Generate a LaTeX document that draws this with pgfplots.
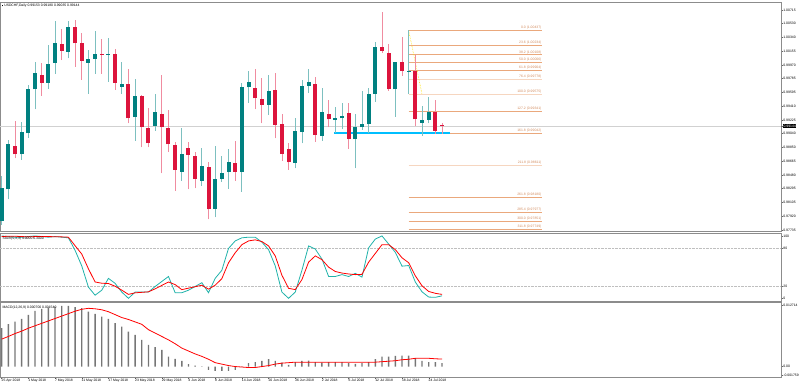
\documentclass[border=0pt]{standalone}
\usepackage{pgfplots}
\pgfplotsset{compat=1.18}
\usepackage{pgfplotstable}
\usepackage{fontspec}
\setmainfont{Liberation Sans}
\definecolor{upc}{RGB}{0,128,128}
\definecolor{dnc}{RGB}{220,20,60}
\definecolor{upw}{RGB}{125,192,192}
\definecolor{dnw}{RGB}{240,140,160}
\definecolor{fibc}{RGB}{234,168,124}
\definecolor{fibl}{RGB}{246,214,192}
\definecolor{fibt}{RGB}{210,140,95}
\definecolor{stk}{RGB}{32,178,170}
\definecolor{macdbar}{RGB}{118,118,118}
\definecolor{supp}{RGB}{0,191,255}
\newcommand\sm{\fontsize{3.4}{4}\selectfont}

\pgfplotstableread{
i O H L C
0 0.97861 0.98467 0.97803 0.98300
1 0.98286 0.98954 0.98151 0.98896
2 0.98877 0.99212 0.98706 0.98760
3 0.98760 0.99202 0.98683 0.99067
4 0.99045 0.99699 0.98985 0.99641
5 0.99641 1.00015 0.99370 0.99858
6 0.99830 1.00001 0.99554 0.99730
7 0.99730 1.00237 0.99649 0.99984
8 1.00001 1.00570 0.99848 1.00272
9 1.00254 1.00458 1.00034 1.00160
10 1.00150 1.00566 1.00061 1.00489
11 1.00489 1.00580 0.99947 1.00264
12 1.00272 1.00408 0.99767 1.00024
13 1.00001 1.00173 0.99577 1.00047
14 1.00051 1.00431 0.99848 1.00119
15 1.00119 1.00318 0.99848 1.00110
16 1.00112 1.00340 0.99744 1.00119
17 1.00119 1.00187 0.99631 0.99730
18 0.99676 1.00015 0.99577 0.99709
19 0.99709 0.99912 0.99180 0.99248
20 0.99262 0.99784 0.98945 0.99550
21 0.99550 0.99564 0.98855 0.99126
22 0.99121 0.99388 0.98855 0.98909
23 0.99144 0.99577 0.99080 0.99329
24 0.99306 0.99835 0.98503 0.99126
25 0.99113 0.99360 0.98788 0.98896
26 0.98886 0.98931 0.98263 0.98548
27 0.98525 0.99113 0.98403 0.98765
28 0.98842 0.98931 0.98286 0.98751
29 0.98741 0.98796 0.98300 0.98426
30 0.98403 0.98850 0.98331 0.98602
31 0.98592 0.98660 0.97880 0.98015
32 0.98020 0.98873 0.97907 0.98426
33 0.98426 0.98737 0.98389 0.98511
34 0.98517 0.98828 0.98290 0.98652
35 0.98647 0.98945 0.98399 0.98525
36 0.98517 0.99722 0.98254 0.99676
37 0.99668 0.99889 0.99459 0.99736
38 0.99663 0.99912 0.99370 0.99519
39 0.99509 0.99790 0.99180 0.99428
40 0.99428 0.99835 0.99293 0.99622
41 0.99631 0.99866 0.98977 0.99157
42 0.99167 0.99306 0.98674 0.98765
43 0.98828 0.98909 0.98548 0.98652
44 0.98647 0.99252 0.98571 0.99076
45 0.99067 0.99767 0.98909 0.99686
46 0.99686 0.99916 0.99587 0.99736
47 0.99713 0.99812 0.98931 0.99022
48 0.99008 0.99654 0.98945 0.99337
49 0.99302 0.99496 0.99126 0.99234
50 0.99229 0.99397 0.99053 0.99256
51 0.99248 0.99451 0.99099 0.99279
52 0.99324 0.99451 0.98832 0.98968
53 0.98964 0.99306 0.98571 0.99126
54 0.99126 0.99622 0.99090 0.99171
55 0.99167 0.99654 0.99045 0.99577
56 0.99577 1.00277 0.99473 1.00218
57 1.00210 1.00684 1.00137 1.00160
58 1.00137 1.00250 0.99622 0.99641
59 0.99641 1.00015 0.99270 1.00007
60 1.00007 1.00353 0.99821 0.99893
61 0.99885 1.00437 0.99575 0.99893
62 0.99889 1.00105 0.99148 0.99234
63 0.99188 0.99415 0.99008 0.99225
64 0.99225 0.99541 0.99180 0.99329
65 0.99329 0.99496 0.99035 0.99080
66 0.99153 0.99180 0.99035 0.99144
}\candles

\pgfplotstableread{
i K D
0 100 99
1 99 99.5
2 98 99.5
3 98 99
4 99 98.5
5 100 99
6 99 99
7 98 99
8 99 98.7
9 98 98.5
10 97 98
11 77 84.4
12 52 71
13 18 47.4
14 5 26.2
15 13 24.2
16 32 23.7
17 24 19.4
18 10 13.1
19 0 6.3
20 10 8.8
21 10 9.6
22 10 10.4
23 19 15.2
24 27 20.7
25 35 26.2
26 9 22
27 9 13.9
28 13 16.3
29 19 18.6
30 25 21
31 9 14.7
32 32 21
33 45 31.6
34 80 57
35 92 73
36 97 86
37 98 92
38 98 93.7
39 90 91
40 78 84
41 52 68
42 10 37
43 0 16
44 10 14
45 45 30
46 84 58
47 79 68
48 63 62
49 35 50
50 35 43
51 38 40.5
52 35 39
53 40 38
54 34 38.4
55 81 58
56 95 72
57 100 86
58 87 86
59 73.6 78
60 51.5 65
61 52.6 57
62 26 36
63 10.4 20
64 2 11
65 1.6 8
66 4 6.3
}\stoch

\pgfplotstableread{
i m s
0 0.00791 0.00565
1 0.00874 0.0062
2 0.00927 0.0068
3 0.00983 0.0073
4 0.01065 0.0079
5 0.01148 0.0084
6 0.01189 0.0089
7 0.01216 0.0094
8 0.01236 0.0099
9 0.01251 0.0104
10 0.01251 0.0109
11 0.01224 0.0114
12 0.01203 0.0118
13 0.01133 0.0120
14 0.01086 0.0119
15 0.01030 0.0117
16 0.00983 0.0113
17 0.00894 0.0107
18 0.00824 0.0101
19 0.00721 0.0097
20 0.00653 0.0092
21 0.00550 0.0087
22 0.00447 0.0076
23 0.00400 0.0069
24 0.00344 0.0062
25 0.00206 0.0055
26 0.00159 0.0047
27 0.00117 0.0038
28 0.00049 0.0032
29 0.00021 0.0026
30 -0.00005 0.0021
31 -0.00068 0.0015
32 -0.00089 0.0008
33 -0.00089 0.0005
34 -0.00089 0.0002
35 -0.00068 0.0000
36 0.00005 -0.0001
37 0.00070 -0.0002
38 0.00090 -0.0002
39 0.00117 0.0000
40 0.00152 0.0002
41 0.00117 0.0005
42 0.00082 0.0007
43 0.00035 0.0008
44 0.00090 0.0009
45 0.00117 0.0009
46 0.00124 0.0009
47 0.00090 0.0009
48 0.00082 0.0009
49 0.00090 0.0009
50 0.00090 0.0009
51 0.00090 0.0009
52 0.00070 0.0009
53 0.00056 0.0009
54 0.00070 0.0009
55 0.00090 0.0009
56 0.00152 0.0009
57 0.00206 0.0010
58 0.00206 0.0011
59 0.00220 0.0012
60 0.00227 0.0014
61 0.00227 0.0015
62 0.00173 0.0017
63 0.00117 0.0017
64 0.00090 0.0017
65 0.00090 0.0016
66 0.00070 0.00154
}\macd

\newcommand\fib[3]{\addplot[#3, line width=0.6pt] coordinates {(61,#2) (81,#2)} node[pos=1, anchor=south east, font=\sm, text=fibt, inner sep=0.5pt] {#1 (#2)};}

\begin{document}
\begin{tikzpicture}
\useasboundingbox (0,0) rectangle (800pt,-385pt);
\pgfplotsset{
 panel/.style={scale only axis, width=781pt, xmin=-0.25, xmax=116.8,
   axis line style={draw=black!45, line width=0.9pt},
   ytick pos=right, yticklabel pos=right, tick align=outside,
   major tick length=1.8pt, tick style={black!60, line width=0.4pt},
   yticklabel style={font=\sm, inner sep=0.4pt}, xtick=\empty,
   scaled y ticks=false, scaled x ticks=false},
 up/.style={restrict expr to domain={\thisrow{C}-\thisrow{O}}{0:1}},
 dn/.style={restrict expr to domain={\thisrow{O}-\thisrow{C}}{0:1}},
}
% ---------------- price panel ----------------
\begin{axis}[panel, at={(0pt,-2pt)}, anchor=north west, height=229pt,
  ymin=0.97721, ymax=1.00823,
  ytick={1.00715,1.00530,1.00340,1.00155,0.99970,0.99785,0.99595,0.99410,0.99225,0.99040,0.98850,0.98665,0.98480,0.98295,0.98105,0.97920,0.97735},
  yticklabels={1.00715,1.00530,1.00340,1.00155,0.99970,0.99785,0.99595,0.99410,0.99225,0.99040,0.98850,0.98665,0.98480,0.98295,0.98105,0.97920,0.97735},
  extra y ticks={0.99144}, extra y tick labels={0.99144},
  extra y tick style={yticklabel style={fill=black, text=white, inner sep=0.6pt}}]
\addplot[black!18, line width=0.5pt] coordinates {(-0.25,0.99144) (116.8,0.99144)};
\fib{0.0}{1.00437}{fibc}
\fib{23.6}{1.00234}{fibc}
\fib{38.2}{1.00108}{fibc}
\fib{50.0}{1.00006}{fibc}
\fib{61.8}{0.99904}{fibc}
\fib{76.4}{0.99778}{fibl}
\fib{100.0}{0.99575}{fibl}
\fib{127.2}{0.99341}{fibc}
\fib{161.8}{0.99042}{fibc}
\fib{211.8}{0.98611}{fibl}
\fib{261.8}{0.98180}{fibc}
\fib{285.4}{0.97977}{fibc}
\fib{300.0}{0.97851}{fibc}
\fib{311.8}{0.97749}{fibc}
\addplot[supp, line width=1.8pt] coordinates {(49.8,0.99049) (67.2,0.99049)};
\addplot[yellow!85!orange, densely dotted, line width=0.6pt] coordinates {(61,1.00437) (63,0.99575)};
% wicks
\addplot[draw=none, up, error bars/.cd, y dir=plus, y explicit, error mark=none,
  error bar style={draw=upw, line width=0.8pt}]
  table[x=i, y=L, y error expr=\thisrow{H}-\thisrow{L}] {\candles};
\addplot[draw=none, dn, error bars/.cd, y dir=plus, y explicit, error mark=none,
  error bar style={draw=dnw, line width=0.8pt}]
  table[x=i, y=L, y error expr=\thisrow{H}-\thisrow{L}] {\candles};
% bodies
\addplot[draw=none, up, error bars/.cd, y dir=plus, y explicit, error mark=none,
  error bar style={draw=upc, line width=4pt}]
  table[x=i, y=O, y error expr=\thisrow{C}-\thisrow{O}] {\candles};
\addplot[draw=none, dn, error bars/.cd, y dir=plus, y explicit, error mark=none,
  error bar style={draw=dnc, line width=4pt}]
  table[x=i, y=C, y error expr=\thisrow{O}-\thisrow{C}] {\candles};
\node[anchor=north west, font=\sm, inner sep=0pt] at (rel axis cs:0.002,0.992)
  {\rule{1.6pt}{1.6pt}\ USDCHF,Daily\ 0.99153\ 0.99180\ 0.99035\ 0.99144};
\end{axis}
% ---------------- stochastic panel ----------------
\begin{axis}[panel, at={(0pt,-233pt)}, anchor=north west, height=68pt,
  ymin=-4.3, ymax=104.7, ytick={0,20,80,100}, yticklabels={0,20,80,100}]
\addplot[black!25, densely dotted, line width=0.4pt] coordinates {(-0.25,80) (116.8,80)};
\addplot[black!25, densely dotted, line width=0.4pt] coordinates {(-0.25,20) (116.8,20)};
\addplot[stk, line width=0.8pt] table[x=i, y=K] {\stoch};
\addplot[red, line width=0.8pt] table[x=i, y=D] {\stoch};
\node[anchor=north west, font=\sm, inner sep=0pt] at (rel axis cs:0.003,0.95)
  {Stoch(5,3,3) 4.0000 6.3000};
\end{axis}
% ---------------- MACD panel ----------------
\begin{axis}[panel, at={(0pt,-302pt)}, anchor=north west, height=75pt,
  ymin=-0.002154, ymax=0.0133,
  ytick={-0.001759,0,0.012714}, yticklabels={-0.001759,0.00,0.012714},
  xtick={0,4,...,64}, xtick pos=left,
  xticklabels={25 Apr 2018,1 May 2018,7 May 2018,11 May 2018,17 May 2018,23 May 2018,29 May 2018,4 Jun 2018,8 Jun 2018,14 Jun 2018,20 Jun 2018,26 Jun 2018,2 Jul 2018,6 Jul 2018,12 Jul 2018,18 Jul 2018,24 Jul 2018},
  xticklabel style={anchor=north west, font=\sm, inner sep=0.4pt, xshift=-0.6pt}]
\addplot[ybar, bar width=1.4pt, fill=macdbar, draw=none] table[x=i, y=m] {\macd};
\addplot[red, line width=0.8pt] table[x=i, y=s] {\macd};
\node[anchor=north west, font=\sm, inner sep=0pt] at (rel axis cs:0.003,0.95)
  {MACD(12,26,9) 0.000700 0.001540};
\end{axis}
\end{tikzpicture}
\end{document}
